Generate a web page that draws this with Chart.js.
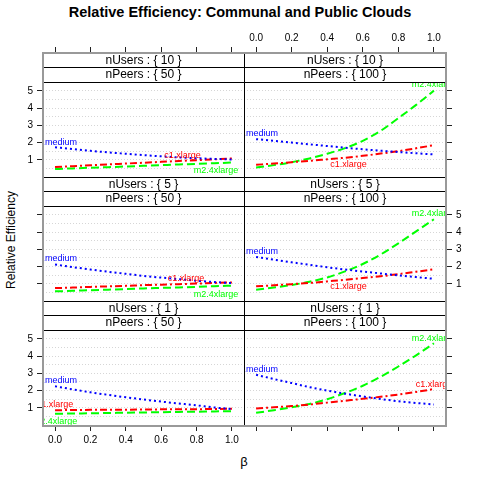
<!DOCTYPE html>
<html lang="en">
<head>
<meta charset="UTF-8">
<title>Relative Efficiency: Communal and Public Clouds</title>
<script src="https://cdn.jsdelivr.net/npm/chart.js"></script>
<style>
  body { margin: 0; background: #fff; font-family: 'Liberation Sans', Arial, sans-serif; }
  #wrap { position: relative; width: 480px; height: 480px; overflow: hidden; }
  #wrap canvas { position: absolute; }
  .txt { position: absolute; color: #000; white-space: nowrap; }
  #title { top: 3px; left: 0; width: 480px; text-align: center; font-weight: bold; font-size: 14.5px; line-height: 18px; }
  #ytitle { left: 11px; top: 240px; font-size: 12px; transform: translate(-50%, -50%) rotate(-90deg); }
  #xtitle { left: 244px; top: 461px; font-size: 13px; color: #000; transform: translate(-50%, -50%); }
  #frame { position: absolute; left: 42px; top: 52px; width: 405px; height: 375px;
           border: 2px solid #999; box-sizing: border-box; pointer-events: none; }
</style>
</head>
<body>
<div id="wrap">
  <div id="title" class="txt">Relative Efficiency: Communal and Public Clouds</div>
  <div id="ytitle" class="txt">Relative Efficiency</div>
  <div id="xtitle" class="txt">β</div>
</div>

<script>
  // ---- data ----
  const beta = [0, 0.1, 0.2, 0.3, 0.4, 0.5, 0.6, 0.7, 0.8, 0.9, 1.0];
  const betaTicks = [0, 0.2, 0.4, 0.6, 0.8, 1.0];
  const yGridValues = [0.5, 1, 1.5, 2, 2.5, 3, 3.5, 4, 4.5, 5];
  const nUsersLevels = [10, 5, 1];
  const nPeersLevels = [50, 100];
  const seriesNames = ['c1.medium', 'c1.xlarge', 'm2.4xlarge'];

  // nUsers 10
  const medium_u10_p50  = [1.73, 1.62, 1.52, 1.43, 1.35, 1.27, 1.20, 1.14, 1.09, 1.05, 1.02];
  const xlarge_u10_p50  = [0.58, 0.63, 0.68, 0.73, 0.78, 0.83, 0.88, 0.93, 0.98, 1.03, 1.08];
  const m24_u10_p50     = [0.46, 0.50, 0.54, 0.57, 0.61, 0.65, 0.69, 0.73, 0.76, 0.80, 0.84];
  const medium_u10_p100 = [2.20, 2.10, 2.00, 1.90, 1.80, 1.70, 1.61, 1.53, 1.45, 1.38, 1.31];
  const xlarge_u10_p100 = [0.71, 0.78, 0.86, 0.94, 1.03, 1.12, 1.23, 1.36, 1.50, 1.67, 1.85];
  const m24_u10_p100    = [0.55, 0.69, 0.86, 1.08, 1.35, 1.68, 2.10, 2.68, 3.42, 4.19, 5.02];

  // nUsers 5
  const medium_u5_p50   = [2.12, 1.97, 1.83, 1.70, 1.58, 1.46, 1.36, 1.27, 1.18, 1.10, 1.04];
  const xlarge_u5_p50   = [0.75, 0.78, 0.82, 0.85, 0.88, 0.92, 0.95, 0.98, 1.01, 1.05, 1.08];
  const m24_u5_p50      = [0.56, 0.59, 0.63, 0.66, 0.69, 0.73, 0.76, 0.79, 0.82, 0.86, 0.89];
  const medium_u5_p100  = [2.56, 2.40, 2.25, 2.10, 1.96, 1.83, 1.71, 1.60, 1.49, 1.39, 1.29];
  const xlarge_u5_p100  = [0.85, 0.91, 0.98, 1.05, 1.14, 1.23, 1.33, 1.44, 1.56, 1.70, 1.84];
  const m24_u5_p100     = [0.66, 0.78, 0.93, 1.12, 1.37, 1.72, 2.15, 2.70, 3.35, 4.05, 4.75];

  // nUsers 1
  const medium_u1_p50   = [2.25, 2.07, 1.90, 1.75, 1.61, 1.48, 1.36, 1.25, 1.14, 1.02, 0.92];
  const xlarge_u1_p50   = [0.86, 0.87, 0.88, 0.88, 0.89, 0.90, 0.91, 0.92, 0.92, 0.93, 0.94];
  const m24_u1_p50      = [0.65, 0.67, 0.68, 0.70, 0.71, 0.73, 0.74, 0.76, 0.77, 0.79, 0.80];
  const medium_u1_p100  = [2.92, 2.67, 2.44, 2.20, 2.00, 1.82, 1.66, 1.51, 1.38, 1.28, 1.19];
  const xlarge_u1_p100  = [0.96, 1.03, 1.10, 1.19, 1.30, 1.41, 1.52, 1.64, 1.77, 1.92, 2.09];
  const m24_u1_p100     = [0.71, 0.86, 1.03, 1.22, 1.50, 1.86, 2.28, 2.80, 3.40, 4.05, 4.75];

  // where each series name is written, [beta, efficiency], same order as seriesNames
  const labels_u10_p50  = [[0, 2.03], [0.72, 1.22], [0.91, 0.35]];
  const labels_u10_p100 = [[0, 2.50], [0.52, 0.70], [1, 5.35]];
  const labels_u5_p50   = [[0, 2.44], [0.74, 1.28], [0.91, 0.35]];
  const labels_u5_p100  = [[0, 2.90], [0.52, 0.83], [1, 5.11]];
  const labels_u1_p50   = [[0, 2.60], [0, 1.21], [0, 0.23]];
  const labels_u1_p100  = [[0, 3.23], [1, 2.37], [1, 5.02]];

  // ---- styles / layout ----
  const seriesColors = ['#0000ff', '#ff0000', '#00ff00'];
  const seriesDash = [[2, 3], [7, 3, 2, 3], [8, 4]];
  const FONT = "'Liberation Sans', Arial, sans-serif";
  const stripH = 14.5;

  const colGeom = [
    { left: 0, width: 244, yPos: 'left', yWidth: 43 },
    { left: 244, width: 236, yPos: 'right', yWidth: 34 }
  ];
  const rowGeom = [
    { top: 30, height: 147, xPos: 'top', xSize: 23 },
    { top: 177, height: 124, xPos: null, xSize: 0 },
    { top: 301, height: 144, xPos: 'bottom', xSize: 20 }
  ];

  const panels = [
    { row: 0, col: 0, series: [medium_u10_p50, xlarge_u10_p50, m24_u10_p50], labels: labels_u10_p50 },
    { row: 0, col: 1, series: [medium_u10_p100, xlarge_u10_p100, m24_u10_p100], labels: labels_u10_p100 },
    { row: 1, col: 0, series: [medium_u5_p50, xlarge_u5_p50, m24_u5_p50], labels: labels_u5_p50 },
    { row: 1, col: 1, series: [medium_u5_p100, xlarge_u5_p100, m24_u5_p100], labels: labels_u5_p100 },
    { row: 2, col: 0, series: [medium_u1_p50, xlarge_u1_p50, m24_u1_p50], labels: labels_u1_p50 },
    { row: 2, col: 1, series: [medium_u1_p100, xlarge_u1_p100, m24_u1_p100], labels: labels_u1_p100 }
  ];

  // strips and panel borders
  const panelDecor = {
    id: 'panelDecor',
    afterDraw(chart, args, opts) {
      const { ctx, chartArea: a } = chart;
      const s1 = Math.floor(a.top - 2 * stripH), s2 = Math.floor(a.top - stripH);
      ctx.save();
      ctx.fillStyle = '#000';
      ctx.font = '12px ' + FONT;
      ctx.textAlign = 'center';
      ctx.textBaseline = 'middle';
      const cx = (a.left + a.right) / 2;
      ctx.fillText('nUsers : { ' + opts.users + ' }', cx, (s1 + s2) / 2 + 0.5);
      ctx.fillText('nPeers : { ' + opts.peers + ' }', cx, (s2 + a.top) / 2 + 0.5);
      ctx.strokeStyle = '#000';
      ctx.lineWidth = 1;
      ctx.beginPath();
      [s1, s2, a.top].forEach(yy => {
        ctx.moveTo(a.left, Math.round(yy) + 0.5);
        ctx.lineTo(a.right, Math.round(yy) + 0.5);
      });
      ctx.moveTo(a.left + 0.5, s1);
      ctx.lineTo(a.left + 0.5, a.bottom);
      ctx.stroke();
      ctx.restore();
    }
  };

  // direct labels of the series, clipped to the panel
  const seriesLabels = {
    id: 'seriesLabels',
    afterDatasetsDraw(chart, args, opts) {
      const { ctx, chartArea: a, scales: { x, y } } = chart;
      ctx.save();
      ctx.beginPath();
      ctx.rect(a.left, a.top, a.right - a.left, a.bottom - a.top);
      ctx.clip();
      ctx.font = '9px ' + FONT;
      ctx.textAlign = 'center';
      ctx.textBaseline = 'middle';
      opts.anchors.forEach((pt, i) => {
        ctx.fillStyle = seriesColors[i];
        ctx.fillText(seriesNames[i], x.getPixelForValue(pt[0]), y.getPixelForValue(pt[1]));
      });
      ctx.restore();
    }
  };

  const wrap = document.getElementById('wrap');

  panels.forEach(p => {
    const cg = colGeom[p.col], rg = rowGeom[p.row];
    const cv = document.createElement('canvas');
    cv.width = cg.width;
    cv.height = rg.height;
    cv.style.left = cg.left + 'px';
    cv.style.top = rg.top + 'px';
    wrap.appendChild(cv);

    const showY = (p.row + p.col) % 2 === 0;
    const showX = (p.row === 0 && p.col === 1) || (p.row === 2 && p.col === 0);

    new Chart(cv, {
      type: 'line',
      data: {
        datasets: p.series.map((vals, i) => ({
          label: seriesNames[i],
          data: vals.map((v, k) => ({ x: beta[k], y: v })),
          borderColor: seriesColors[i],
          borderDash: seriesDash[i],
          borderWidth: 2,
          pointRadius: 0,
          fill: false,
          cubicInterpolationMode: 'monotone'
        }))
      },
      options: {
        responsive: false,
        animation: false,
        devicePixelRatio: 1,
        layout: { padding: 0 },
        plugins: {
          legend: { display: false },
          tooltip: { enabled: false },
          // empty title only reserves the room for the two strips
          title: { display: true, text: '', padding: 0, font: { size: 12, lineHeight: (2 * stripH) + 'px' } },
          panelDecor: { users: nUsersLevels[p.row], peers: nPeersLevels[p.col] },
          seriesLabels: { anchors: p.labels }
        },
        scales: {
          x: {
            type: 'linear',
            min: -0.068,
            max: 1.068,
            display: !!rg.xPos,
            position: rg.xPos || 'bottom',
            weight: 3000,
            afterBuildTicks: s => { s.ticks = betaTicks.map(v => ({ value: v })); },
            afterFit: s => {
              if (rg.xSize) s.height = rg.xSize;
              s.paddingLeft = 0; s.paddingRight = 0;
            },
            grid: { drawOnChartArea: false, drawTicks: true, tickLength: 6, tickWidth: 1, tickColor: '#222' },
            border: { display: false },
            ticks: {
              display: showX, autoSkip: false, maxRotation: 0, padding: 3,
              color: '#000', font: { family: FONT, size: 10 },
              callback: v => v.toFixed(1)
            }
          },
          y: {
            type: 'linear',
            min: 0,
            max: 5.52,
            position: cg.yPos,
            afterBuildTicks: s => { s.ticks = yGridValues.map(v => ({ value: v })); },
            afterFit: s => {
              s.width = cg.yWidth;
              s.paddingTop = 0; s.paddingBottom = 0;
            },
            grid: {
              color: '#d6d6d6', lineWidth: 1, drawTicks: true, tickLength: 6, tickWidth: 1,
              tickColor: c => (c.tick && Number.isInteger(c.tick.value)) ? '#222' : 'rgba(0,0,0,0)'
            },
            border: { display: false, dash: [1, 2] },
            ticks: {
              display: showY, autoSkip: false, padding: 4,
              color: '#000', font: { family: FONT, size: 10 },
              callback: v => Number.isInteger(v) ? String(v) : ''
            }
          }
        }
      },
      plugins: [panelDecor, seriesLabels]
    });
  });

  const frame = document.createElement('div');
  frame.id = 'frame';
  wrap.appendChild(frame);
</script>
</body>
</html>
